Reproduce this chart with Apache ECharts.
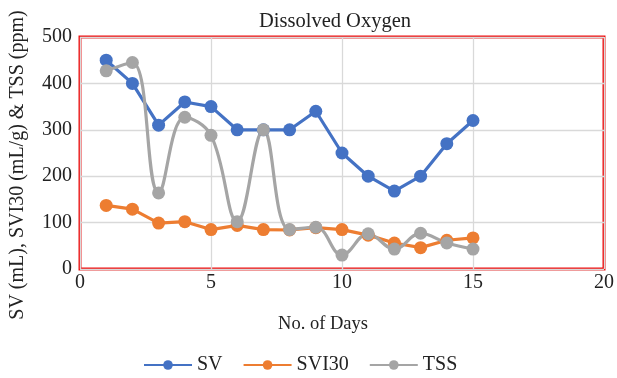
<!DOCTYPE html>
<html><head><meta charset="utf-8">
<script src="https://cdn.jsdelivr.net/npm/echarts@6/dist/echarts.min.js"></script>
<style>html,body{margin:0;padding:0;background:#fff}#c{width:617px;height:378px}</style>
</head><body><div id="c"></div>
<script>
const days = [1,2,3,4,5,6,7,8,9,10,11,12,13,14,15];
const sv = [450,400,310,360,350,300,300,300,340,250,200,168,200,270,320];
const svi30 = [137,129,99,102,85,94,85,84,89,85,73,56,46,62,67];
const tss = [427,445,164,327,288,102,300,85,90,30,76,43,77,56,43];
const font = 'Liberation Serif';
const pair = (arr) => days.map((d,i)=>[d,arr[i]]);
const chart = echarts.init(document.getElementById('c'));
const mk = (name, data, color, smooth) => ({
  name, type:'line', data: pair(data), smooth: smooth ? 0.4 : false,
  symbol:'circle', symbolSize:13,
  lineStyle:{color, width:3.2}, itemStyle:{color},
});
chart.setOption({
  animation:false,
  title:{text:'Dissolved Oxygen', left:330, textAlign:'center', top:6, textStyle:{fontFamily:font, fontSize:20.5, fontWeight:'normal', color:'#222'}},
  grid:{left:80, right:12, top:37, bottom:109, show:true, borderColor:'#ee1111', borderWidth:3, containLabel:false},
  xAxis:{type:'value', min:0, max:20, interval:5, name:'No. of Days', nameLocation:'middle', nameGap:46,
    nameTextStyle:{fontFamily:font, fontSize:18.5, color:'#222', padding:[0,38,0,0]},
    axisLine:{show:false}, axisTick:{show:false},
    axisLabel:{fontFamily:font, fontSize:20, color:'#222', margin:4},
    splitLine:{show:true, lineStyle:{color:'#d9d9d9', width:1.3}}},
  yAxis:{type:'value', min:0, max:500, interval:100, name:'SV (mL), SVI30 (mL/g) & TSS (ppm)', nameLocation:'middle', nameGap:52,
    nameTextStyle:{fontFamily:font, fontSize:20, color:'#222', padding:[0,24,0,0]},
    axisLine:{show:false}, axisTick:{show:false},
    axisLabel:{fontFamily:font, fontSize:20, color:'#222', margin:8},
    splitLine:{show:true, lineStyle:{color:'#d9d9d9', width:1.3}}},
  legend:{top:350, left:138, itemGap:20, itemWidth:48, itemHeight:12,
    textStyle:{fontFamily:font, fontSize:20, color:'#222'},
    data:['SV','SVI30','TSS']},
  series:[
    mk('SV', sv, '#4472c4', false),
    mk('SVI30', svi30, '#ed7d31', false),
    mk('TSS', tss, '#a5a5a5', true)
  ]
});
</script></body></html>
